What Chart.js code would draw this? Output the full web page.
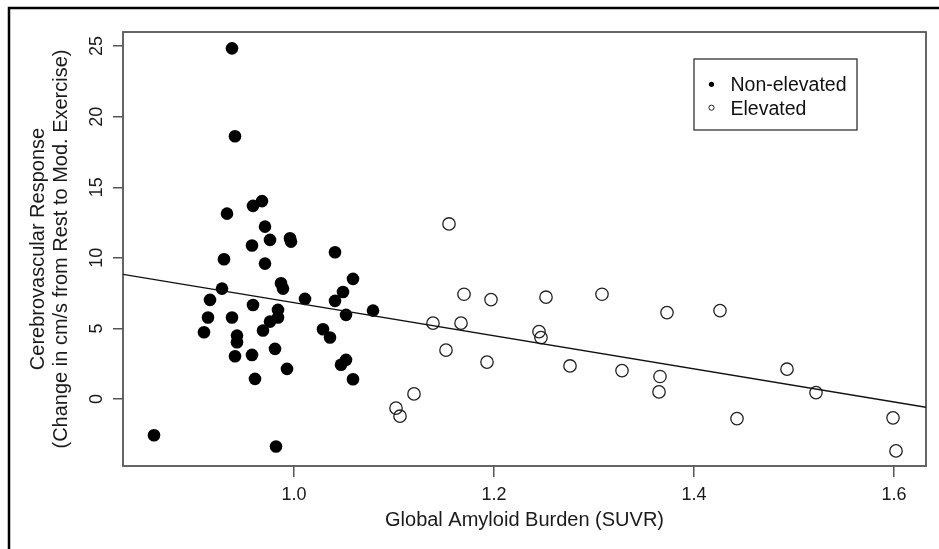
<!DOCTYPE html>
<html><head><meta charset="utf-8">
<script src="https://cdn.jsdelivr.net/npm/chart.js@4.4.1/dist/chart.umd.min.js"></script>
<style>html,body{margin:0;padding:0;background:#fff;}#wrap{width:939px;height:549px;position:relative}</style>
</head><body><div id="wrap"><canvas id="c" width="939" height="549"></canvas></div>
<script>
// ---- data ----
const seriesNames = ['Non-elevated', 'Elevated'];
const nonElevX = [0.938,0.941,0.968,0.959,0.933,0.971,0.976,0.996,0.997,0.958,1.041,0.930,0.971,1.059,0.987,0.989,0.928,1.049,1.011,0.916,1.041,1.079,0.959,0.984,1.052,0.984,0.914,0.938,0.976,0.969,1.029,1.036,0.910,0.943,0.943,0.981,0.941,0.958,1.052,1.047,0.993,0.961,1.059,0.860,0.982];
const nonElevY = [24.84,18.61,14.02,13.68,13.13,12.21,11.27,11.39,11.15,10.87,10.40,9.90,9.59,8.51,8.20,7.82,7.82,7.58,7.09,7.02,6.95,6.26,6.66,6.31,5.96,5.77,5.77,5.77,5.48,4.85,4.94,4.35,4.73,4.49,4.02,3.55,3.03,3.12,2.77,2.42,2.13,1.42,1.40,-2.57,-3.37];
const elevX = [1.155,1.170,1.197,1.252,1.308,1.139,1.167,1.245,1.247,1.152,1.193,1.276,1.328,1.120,1.102,1.106,1.373,1.426,1.366,1.365,1.493,1.522,1.443,1.599,1.602];
const elevY = [12.40,7.42,7.04,7.21,7.42,5.37,5.37,4.77,4.35,3.46,2.61,2.34,2.01,0.36,-0.65,-1.22,6.12,6.26,1.59,0.50,2.11,0.45,-1.39,-1.34,-3.68];
const fitIntercept = 18.54;
const fitSlope = -11.72;
const xTicks = [1.0, 1.2, 1.4, 1.6];
const yTicks = [0, 5, 10, 15, 20, 25];
const xRange = [0.829, 1.632];
const yRange = [-4.75, 26.0];
const xTitle = 'Global Amyloid Burden (SUVR)';
const yTitle = ['Cerebrovascular Response', '(Change in cm/s from Rest to Mod. Exercise)'];

const FONT = '"Liberation Sans", Arial, Helvetica, sans-serif';
const toPts = (xs, ys) => xs.map((x, i) => ({x, y: ys[i]}));
const fitLine = xRange.map(x => ({x, y: fitIntercept + fitSlope * x}));

const boxPlugin = {
  id: 'box',
  beforeDatasetsDraw(chart) {
    const {ctx, chartArea: a} = chart;
    ctx.save();
    ctx.strokeStyle = '#555';
    ctx.lineWidth = 1.8;
    ctx.strokeRect(a.left, a.top, a.right - a.left, a.bottom - a.top);
    ctx.restore();
  },
  afterDraw(chart) {
    const ctx = chart.ctx;
    ctx.save();
    // outer frame
    ctx.strokeStyle = '#000';
    ctx.lineWidth = 2.5;
    ctx.strokeRect(9, 8, 1200, 1200);
    // legend
    ctx.strokeStyle = '#333';
    ctx.lineWidth = 1.3;
    ctx.strokeRect(694, 59, 163, 71);
    const ds = chart.data.datasets.filter(d => d.type !== 'line');
    const rows = [84.3, 107.7];
    ds.forEach((d, i) => {
      ctx.beginPath();
      ctx.arc(711.5, rows[i], 2.6, 0, Math.PI * 2);
      if (d.backgroundColor !== 'rgba(0,0,0,0)') { ctx.fillStyle = d.backgroundColor; ctx.fill(); }
      else { ctx.strokeStyle = d.borderColor; ctx.lineWidth = 1; ctx.stroke(); }
      ctx.fillStyle = '#111';
      ctx.font = '19.5px ' + FONT;
      ctx.textBaseline = 'alphabetic';
      ctx.textAlign = 'left';
      ctx.fillText(d.label, 730.5, rows[i] + 6.8);
    });
    ctx.restore();
  }
};

new Chart(document.getElementById('c'), {
  type: 'scatter',
  data: {
    datasets: [
      { type: 'line', label: 'fit', data: fitLine, borderColor: '#111', borderWidth: 1.3, pointRadius: 0, fill: false, order: 0 },
      { label: seriesNames[0], data: toPts(nonElevX, nonElevY), backgroundColor: '#000', borderColor: '#000', borderWidth: 0, pointRadius: 6.3, order: 1 },
      { label: seriesNames[1], data: toPts(elevX, elevY), backgroundColor: 'rgba(0,0,0,0)', borderColor: '#222', borderWidth: 1.3, pointRadius: 6.2, order: 1 }
    ]
  },
  options: {
    responsive: false,
    animation: false,
    devicePixelRatio: 1,
    layout: { padding: { top: 32, right: 13, left: 0, bottom: 0 } },
    plugins: { legend: { display: false }, tooltip: { enabled: false } },
    scales: {
      x: {
        type: 'linear', min: xRange[0], max: xRange[1],
        afterBuildTicks: s => { s.ticks = xTicks.map(v => ({value: v})); },
        afterFit: s => { s.height = 83; },
        ticks: { callback: v => Number(v).toFixed(1), font: { family: FONT, size: 18 }, color: '#1a1a1a', padding: 7, autoSkip: false, maxRotation: 0 },
        grid: { drawOnChartArea: false, drawTicks: true, tickLength: 11, color: '#555', lineWidth: 1.5 },
        border: { display: false },
        title: { display: true, text: xTitle, color: '#1a1a1a', font: { family: FONT, size: 20, lineHeight: 1 }, padding: { top: 0, bottom: 19 } }
      },
      y: {
        type: 'linear', min: yRange[0], max: yRange[1],
        afterBuildTicks: s => { s.ticks = yTicks.map(v => ({value: v})); },
        afterFit: s => { s.width = 123; },
        ticks: { font: { family: FONT, size: 18 }, color: '#1a1a1a', padding: 6, autoSkip: false, minRotation: 90, maxRotation: 90, crossAlign: 'center' },
        grid: { drawOnChartArea: false, drawTicks: true, tickLength: 10, color: '#555', lineWidth: 1.5 },
        border: { display: false },
        title: { display: true, text: yTitle, color: '#1a1a1a', font: { family: FONT, size: 20, lineHeight: 1.15 }, padding: { top: 26.5, bottom: 0 } }
      }
    }
  },
  plugins: [boxPlugin]
});
</script>
</body></html>
